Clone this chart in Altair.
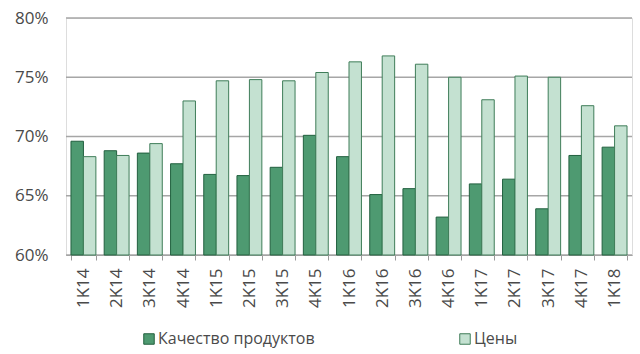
import altair as alt
import pandas as pd

quarters = ["1K14", "2K14", "3K14", "4K14", "1K15", "2K15", "3K15", "4K15", "1K16",
            "2K16", "3K16", "4K16", "1K17", "2K17", "3K17", "4K17", "1K18"]
quality = [69.6, 68.8, 68.6, 67.7, 66.8, 66.7, 67.4, 70.1, 68.3,
           65.1, 65.6, 63.2, 66.0, 66.4, 63.9, 68.4, 69.1]
prices = [68.3, 68.4, 69.4, 73.0, 74.7, 74.8, 74.7, 75.4, 76.3,
          76.8, 76.1, 75.0, 73.1, 75.1, 75.0, 72.6, 70.9]
series = ["Качество продуктов", "Цены"]
y_ticks = [60, 65, 70, 75, 80]

rows = []
for q, a, b in zip(quarters, quality, prices):
    rows.append({"q": q, "s": series[0], "v": a})
    rows.append({"q": q, "s": series[1], "v": b})
df = pd.DataFrame(rows)
grid_df = pd.DataFrame({"v": y_ticks})

FONT = "Open Sans"
TXT = "#4a4a4a"
AXC = "#9a9a9a"

y_scale = alt.Scale(domain=[60, 80], nice=False, zero=False)

grid = alt.Chart(grid_df).mark_rule(color="#a6a6a6", strokeWidth=1.3).encode(
    y=alt.Y("v:Q", scale=y_scale, title=None,
            axis=alt.Axis(values=y_ticks, labelExpr="datum.value + '%'",
                          labelFontSize=17, labelFont=FONT, labelColor=TXT,
                          labelPadding=18, ticks=False, domain=False, grid=False)),
    x=alt.value(0), x2=alt.value(566),
)

bars = alt.Chart(df).mark_bar(strokeWidth=1).encode(
    x=alt.X("q:N", sort=quarters, title=None,
            scale=alt.Scale(paddingInner=0.25, paddingOuter=0.15),
            axis=alt.Axis(labelAngle=-90, labelAlign="right", labelBaseline="middle",
                          labelFontSize=17, labelFont=FONT, labelColor=TXT,
                          labelPadding=8, tickBand="extent", tickSize=5,
                          tickColor=AXC, domainColor=AXC, domainWidth=1.2,
                          grid=False, domain=True)),
    xOffset=alt.XOffset("s:N", sort=series),
    y=alt.Y("v:Q", scale=y_scale, title=None),
    y2=alt.Y2(datum=60),
    fill=alt.Fill("s:N", sort=series,
                  scale=alt.Scale(domain=series, range=["#4e9a71", "#c4e1d1"]),
                  legend=alt.Legend(title=None, orient="none", legendX=75, legendY=313,
                                    direction="horizontal", symbolType="square",
                                    symbolSize=110, symbolStrokeWidth=1,
                                    labelFontSize=16, labelFont=FONT, labelColor=TXT,
                                    labelOffset=1, columnPadding=142)),
    stroke=alt.Stroke("s:N", sort=series,
                      scale=alt.Scale(domain=series, range=["#22603f", "#3f7d59"]),
                      legend=None),
)

chart = alt.layer(grid, bars).properties(
    width=566, height=237,
    autosize=alt.AutoSizeParams(type="none"),
    padding={"left": 66, "top": 18, "right": 8, "bottom": 99},
).configure_view(strokeWidth=0, stroke=None).configure(background="white")

chart.save("out.html", embed_options={"renderer": "svg", "actions": False})
